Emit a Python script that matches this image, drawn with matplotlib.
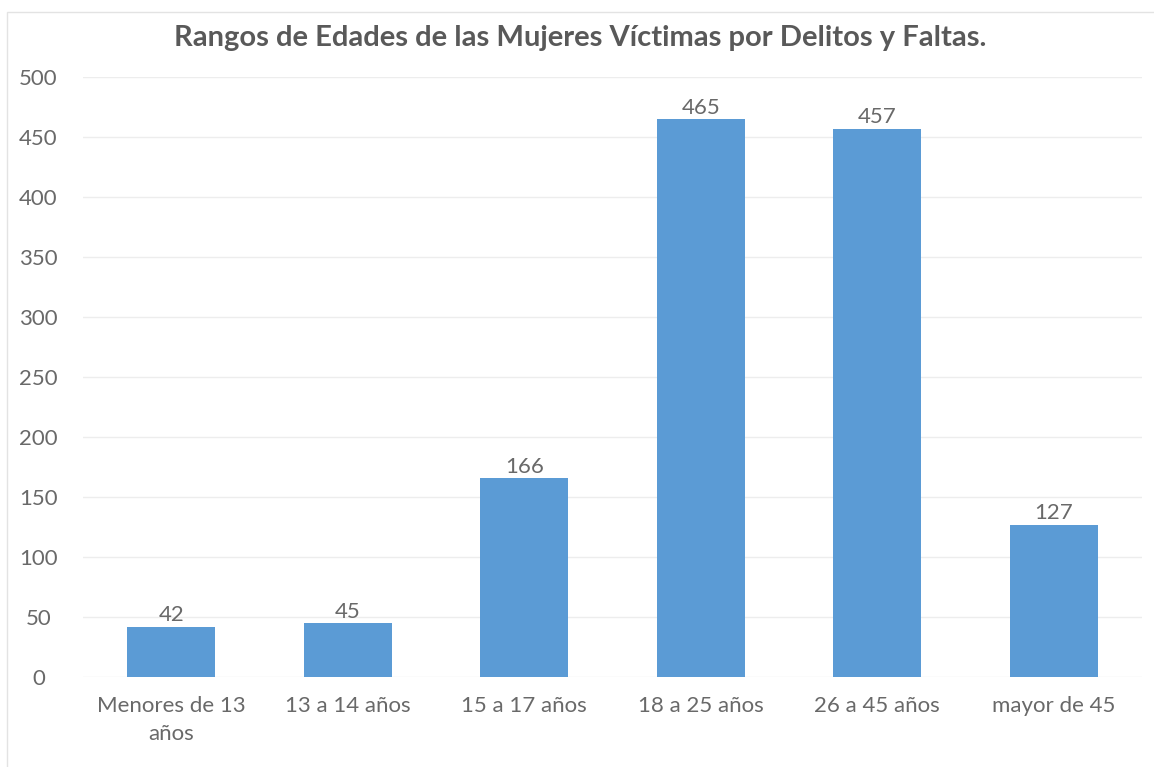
import matplotlib.pyplot as plt
from matplotlib.patches import Rectangle

categories = ['Menores de 13\naños', '13 a 14 años', '15 a 17 años',
              '18 a 25 años', '26 a 45 años', 'mayor de 45']
values = [42, 45, 166, 465, 457, 127]
y_ticks = [0, 50, 100, 150, 200, 250, 300, 350, 400, 450, 500]

text_color = '#595959'
label_color = '#696969'
bar_color = '#5B9BD5'
plt.rcParams['font.family'] = ['Lato', 'DejaVu Sans']

fig = plt.figure(figsize=(11.54, 7.67), dpi=100)
ax = fig.add_axes([0.0719, 0.1173, 0.9177, 0.7823])

x = range(len(categories))
bars = ax.bar(x, values, width=0.5, color=bar_color, zorder=2)

for b, v in zip(bars, values):
    ax.text(b.get_x() + b.get_width() / 2, v + 1, str(v), ha='center', va='bottom',
            fontsize=16, color=label_color)

ax.set_xlim(-0.5, len(categories) - 0.5)
ax.set_ylim(0, 500)
ax.set_yticks(y_ticks)
ax.set_xticks(list(x))
ax.set_xticklabels(categories, linespacing=1.5)
ax.tick_params(axis='both', length=0, labelsize=16, labelcolor=label_color)
ax.tick_params(axis='y', pad=32)
ax.tick_params(axis='x', pad=14)
for lbl in ax.get_yticklabels():
    lbl.set_horizontalalignment('center')
ax.grid(axis='y', color='#EDEDED', linewidth=1, zorder=0)
for s in ax.spines.values():
    s.set_visible(False)

fig.text(0.503, 0.951, 'Rangos de Edades de las Mujeres Víctimas por Delitos y Faltas.',
         ha='center', va='center', fontsize=21, fontweight='bold', color=text_color)

# faint frame of the original chart box
fig.patches.append(Rectangle((0.006, -0.01), 1.1, 0.995, transform=fig.transFigure,
                             fill=False, edgecolor='#E3E3E3', linewidth=1))

fig.savefig('out.png', dpi=100)
